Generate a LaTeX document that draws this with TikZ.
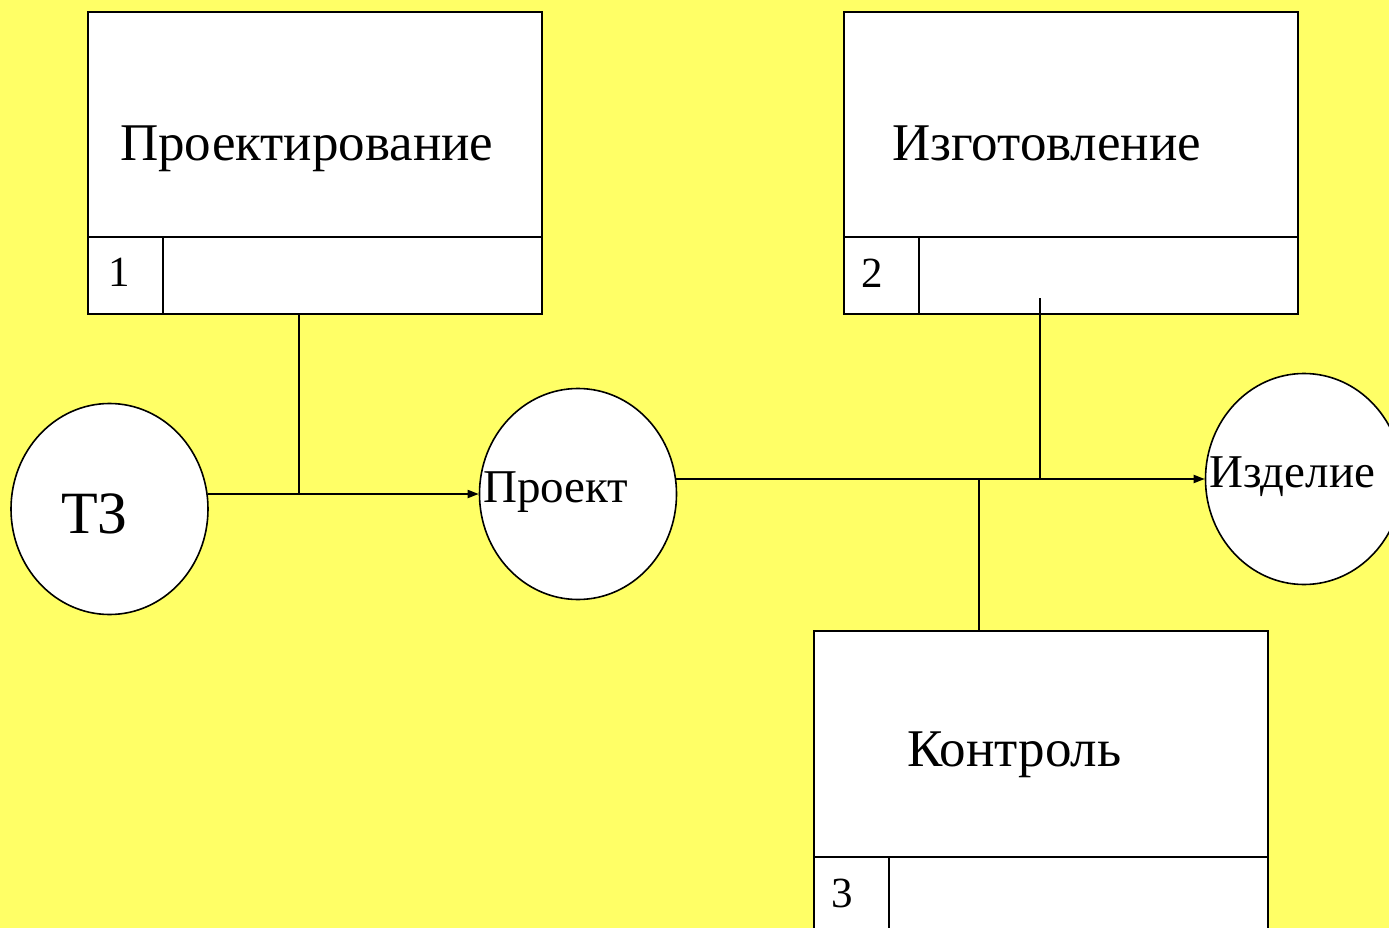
\documentclass[tikz,border=0pt]{standalone}
\usepackage{fontspec}
\setmainfont{Liberation Serif}
\usetikzlibrary{shapes.geometric,arrows.meta}
\definecolor{bgyellow}{RGB}{255,255,102}
\begin{document}
\begin{tikzpicture}[x=1pt,y=-1pt,
  box/.style={draw,fill=white,line width=2pt,rectangle,minimum width=454pt,minimum height=302pt,inner sep=0pt,anchor=north west},
  ell/.style={draw,fill=white,line width=1.6pt,ellipse,inner sep=0pt,minimum width=197pt,minimum height=211pt},
  cell/.style={line width=2pt},
  conn/.style={line width=1.8pt},
  arr/.style={conn,-{Triangle[length=11pt,width=8pt]}},
  bigtxt/.style={inner sep=0pt,anchor=base west,font=\fontsize{53}{60}\selectfont},
  midtxt/.style={inner sep=0pt,anchor=base west,font=\fontsize{47}{54}\selectfont},
  numtxt/.style={inner sep=0pt,anchor=base west,font=\fontsize{43}{50}\selectfont}]
\useasboundingbox[fill=bgyellow] (0,0) rectangle (1389,928);
\clip (0,0) rectangle (1389,928);
% boxes
\node[box] (b1) at (87,11) {};
\draw[cell] (87,237) -- (541,237) (163,237) -- (163,313);
\node[box] (b2) at (843,11) {};
\draw[cell] (843,237) -- (1297,237) (919,237) -- (919,313);
\node[box] (b3) at (813,630) {};
\draw[cell] (813,857) -- (1267,857) (889,857) -- (889,932);
\node[bigtxt] (t1) at (120,161) {Проектирование};
\node[bigtxt] (t2) at (892,161) {Изготовление};
\node[bigtxt] (t3) at (907,766) {Контроль};
\node[numtxt] (n1) at (108,286) {1};
\node[numtxt] (n2) at (861,287) {2};
\node[numtxt] (n3) at (831,907) {3};
% ellipses
\node[ell] (tz) at (109.5,509) {};
\node[ell] (proj) at (578,494) {};
\node[ell] (izd) at (1304,479) {};
\node[inner sep=0pt,anchor=base west,font=\fontsize{60}{66}\selectfont] (tzt) at (61,533) {ТЗ};
\node[midtxt] (projt) at (483,502) {Проект};
\node[midtxt] (izdt) at (1209,487) {Изделие};
% connectors
\coordinate (j1) at (299,494);
\coordinate (j2) at (1040,479);
\coordinate (j3) at (979,479);
\coordinate (k2) at (1040,298);
\draw[arr] (proj.west -| tz.8.7) -- (proj.west);
\draw[conn] (b1.south west -| j1) -- (j1);
\draw[arr] (izd.west -| proj.8.7) -- (izd.west);
\draw[conn] (k2) -- (j2);
\draw[conn] (j3) -- (b3.north west -| j3);
\end{tikzpicture}
\end{document}
